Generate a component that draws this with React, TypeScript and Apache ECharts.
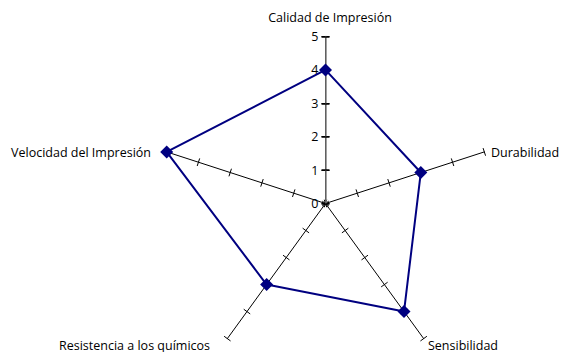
import React, { useEffect, useRef } from "react";
import * as echarts from "echarts";

// Counter-clockwise order starting from the top axis
const categories = [
  "Calidad de Impresión",
  "Velocidad del Impresión",
  "Resistencia a los químicos",
  "Sensibilidad",
  "Durabilidad",
];
const values = [4, 5, 3, 4, 3];
const axisMax = 5;
const tickLabels = [0, 1, 2, 3, 4, 5];

const FONT = "Open Sans";
const NAME_FONT = `12.5px "${FONT}"`;

export default function App() {
  const ref = useRef<HTMLDivElement>(null);
  useEffect(() => {
    if (!ref.current) return;
    const chart = echarts.init(ref.current, undefined, { renderer: "svg" });
    const cx = 325.5;
    const cy = 203.5;
    const r = 167;
    const indicator = categories.map((name) => ({ name, min: 0, max: axisMax }));
    const radarBase = {
      center: [cx, cy],
      radius: r,
      startAngle: 90,
      shape: "polygon",
      splitNumber: axisMax,
      indicator,
      splitLine: { show: false },
      splitArea: { show: false },
      axisName: { show: false },
      axisLabel: { show: false },
      z: 0,
    };
    chart.setOption({
      animation: false,
      backgroundColor: "#ffffff",
      radar: [
        {
          ...radarBase,
          axisLine: { show: true, lineStyle: { color: "#000", width: 1 } },
          axisTick: { show: true, length: 4, lineStyle: { color: "#000", width: 1 } },
        },
        {
          ...radarBase,
          axisLine: { show: false },
          axisTick: { show: true, length: -4, lineStyle: { color: "#000", width: 1 } },
        },
      ],
      grid: { left: cx, top: cy - r, width: 1, height: r },
      xAxis: { type: "value", show: false, min: 0, max: 1 },
      yAxis: [
        {
          type: "value",
          position: "left",
          min: tickLabels[0],
          max: tickLabels[tickLabels.length - 1],
          interval: 1,
          z: 1,
          axisLine: { show: true, lineStyle: { color: "#808080", width: 1.5 } },
          axisTick: { show: true, length: 4, lineStyle: { color: "#000", width: 1.5 } },
          axisLabel: {
            show: true,
            margin: 7,
            color: "#000",
            fontSize: 12.5,
            fontFamily: FONT,
          },
          splitLine: { show: false },
        },
        {
          type: "value",
          position: "left",
          min: tickLabels[0],
          max: tickLabels[tickLabels.length - 1],
          interval: 1,
          z: 1,
          axisLine: { show: false },
          axisTick: { show: true, inside: true, length: 4, lineStyle: { color: "#000", width: 1.5 } },
          axisLabel: { show: false },
          splitLine: { show: false },
        },
      ],
      series: [
        {
          type: "radar",
          radarIndex: 0,
          z: 3,
          symbol: "diamond",
          symbolSize: 13,
          lineStyle: { color: "#000080", width: 2 },
          itemStyle: { color: "#000080" },
          data: [{ value: values, name: "Serie1" }],
        },
      ],
      graphic: [
        { type: "text", x: 330, y: 17, style: { text: categories[0], textAlign: "center", textVerticalAlign: "middle", fill: "#000", font: NAME_FONT } },
        { type: "text", x: 151, y: 152, style: { text: categories[1], textAlign: "right", textVerticalAlign: "middle", fill: "#000", font: NAME_FONT } },
        { type: "text", x: 210, y: 345, style: { text: categories[2], textAlign: "right", textVerticalAlign: "middle", fill: "#000", font: NAME_FONT } },
        { type: "text", x: 428, y: 345, style: { text: categories[3], textAlign: "left", textVerticalAlign: "middle", fill: "#000", font: NAME_FONT } },
        { type: "text", x: 491, y: 152, style: { text: categories[4], textAlign: "left", textVerticalAlign: "middle", fill: "#000", font: NAME_FONT } },
      ],
    });
    return () => chart.dispose();
  }, []);
  return (
    <div
      ref={ref}
      style={{ position: "absolute", left: 0, top: 0, width: 564, height: 352, background: "#fff" }}
    />
  );
}
